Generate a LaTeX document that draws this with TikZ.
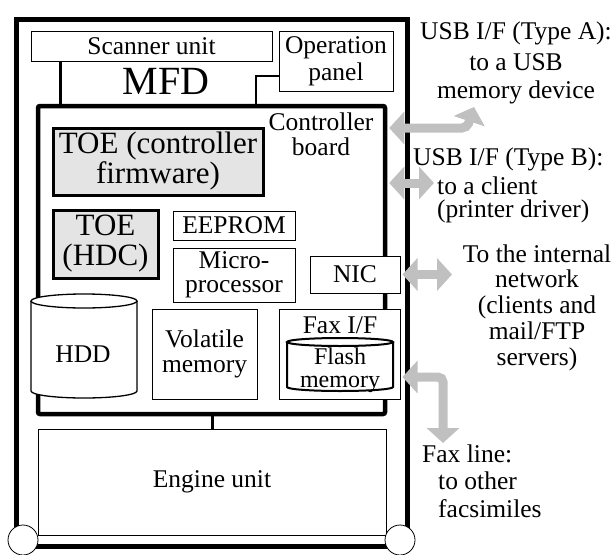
\documentclass[tikz,border=0pt]{standalone}
\usepackage{fontspec}
\setmainfont{Liberation Serif}
\usetikzlibrary{arrows.meta}
\definecolor{toegray}{RGB}{228,228,228}
\definecolor{arrgray}{RGB}{192,192,192}
\newcommand{\fsN}{\fontsize{25.5}{27}\selectfont}
\begin{document}
\begin{tikzpicture}[x=1pt,y=-1pt,
  box/.style={draw, line width=1pt, fill=white, inner sep=0pt, align=center, font=\fsN},
  toebox/.style={draw, line width=3pt, fill=toegray, inner sep=0pt, align=center, font=\fontsize{31}{30}\selectfont},
  txt/.style={inner sep=0pt, font=\fsN},
  conn/.style={line width=2.5pt},
  garrow/.style={arrgray, line width=9pt, rounded corners=5pt,
     {Triangle[width=32pt,length=15pt]}-{Triangle[width=32pt,length=15pt]}},
  cyl/.style={line width=1.3pt, fill=white},
  wheel/.style={draw, line width=0.8pt, fill=white, circle, minimum size=30pt, inner sep=0pt}]
\useasboundingbox (0,0) rectangle (615,554);
% outer MFD frame
\draw[line width=5pt] (16,19) rectangle (407.5,546);
% scanner and operation panel
\node[box, minimum width=241pt, minimum height=30pt] (scan) at (151.5,46) {Scanner unit};
\node[box, minimum width=114pt, minimum height=60pt] (oppanel) at (336,61) {Operation\\panel};
\node[txt, font=\fontsize{40}{40}\selectfont] (mfd) at (166,81) {MFD};
% controller board
\node[draw, line width=4.5pt, rounded corners=2pt, minimum width=347pt, minimum height=308pt, inner sep=0pt] (ctrl) at (211.5,260) {};
\node[txt, align=center, font=\fontsize{25.5}{25}\selectfont] (ctrllbl) at (321,134) {Controller\\board};
\draw[conn] ([xshift=30pt]scan.south west) -- ([xshift=30pt]scan.south west |- ctrl.north);
\coordinate (opbend) at (256,76);
\draw[conn] (oppanel.west |- opbend) -- (opbend) -- (opbend |- ctrl.north);
% inner components
\node[toebox, minimum width=210pt, minimum height=67pt] (toefw) at (158,161.5) {TOE (controller\\firmware)};
\node[toebox, minimum width=105pt, minimum height=68pt] (toehdc) at (105.5,244) {TOE\\(HDC)};
\node[box, minimum width=122pt, minimum height=29pt] (eeprom) at (234,225.5) {EEPROM};
\node[box, minimum width=122pt, minimum height=54pt, font=\fontsize{25.5}{23.5}\selectfont] (micro) at (234,275) {Micro-\\processor};
\node[box, minimum width=90pt, minimum height=37pt] (nic) at (355,274.5) {NIC};
% HDD cylinder
\draw[cyl] (31,301) -- (31,391) arc[start angle=180, end angle=360, x radius=53pt, y radius=7pt] -- (137,301);
\draw[cyl] (84,301) ellipse[x radius=53pt, y radius=7pt];
\node[txt] (hddlbl) at (83,354) {HDD};
\node[box, minimum width=105pt, minimum height=90pt, font=\fontsize{25.5}{25}\selectfont] (volatile) at (204.5,354) {Volatile\\memory};
\node[box, minimum width=121pt, minimum height=90pt] (faxif) at (339.5,354) {};
\node[txt, anchor=base] (faxlbl) at (340,333) {Fax I/F};
% flash cylinder
\draw[line width=2pt, fill=white] (287,342) -- (287,387) arc[start angle=180, end angle=360, x radius=53pt, y radius=4pt] -- (393,342);
\draw[line width=2pt] (340,342) ellipse[x radius=53pt, y radius=4pt];
\node[txt, align=center, anchor=north, font=\fontsize{24}{23}\selectfont] (flashlbl) at (340,347.5) {Flash\\memory};
% engine unit
\node[box, minimum width=348pt, minimum height=106pt] (engine) at (212,482) {Engine unit};
\draw[line width=3pt] (engine.north |- ctrl.south) -- (engine.north);
% wheels
\node[wheel] (wheelL) at (23,540) {};
\node[wheel] (wheelR) at (400,540) {};
% right-hand texts
\node[txt, align=center, anchor=north, font=\fontsize{25.5}{28}\selectfont] (usbAtxt) at (516,21.4) {USB I/F (Type A):\\[3pt]to a USB\\memory device};
\node[txt, align=left, anchor=north west, font=\fontsize{25.5}{23}\selectfont] (usbBtxt) at (413,147.4) {USB I/F (Type B):\\[5pt]\hspace*{24pt}to a client\\\hspace*{24pt}(printer driver)};
\node[txt, align=center, anchor=north, font=\fontsize{25.5}{25.7}\selectfont] (nettxt) at (537,244.4) {To the internal\\network\\(clients and\\mail/FTP\\servers)};
\node[txt, align=left, anchor=north west, font=\fontsize{25.5}{27.5}\selectfont] (faxtxt) at (422,444.4) {Fax line:\\\hspace*{16pt}to other\\\hspace*{16pt}facsimiles};
% gray interface arrows
\coordinate (usbAbend) at (467,128);
\coordinate (usbA) at (474,107);
\draw[garrow] ([xshift=2pt]ctrl.east |- usbAbend) -- (usbAbend) -- (usbA);
\coordinate (usbB) at (434,183);
\draw[garrow] ([xshift=2pt]ctrl.east |- usbB) -- (usbB);
\coordinate (net) at (452,274.5);
\draw[garrow] ([xshift=2pt]nic.east) -- (net);
\coordinate (faxbend) at (443,377);
\coordinate (faxline) at (443,443);
\draw[garrow] ([xshift=2pt]faxif.east |- faxbend) -- (faxbend) -- (faxline);
\end{tikzpicture}
\end{document}
